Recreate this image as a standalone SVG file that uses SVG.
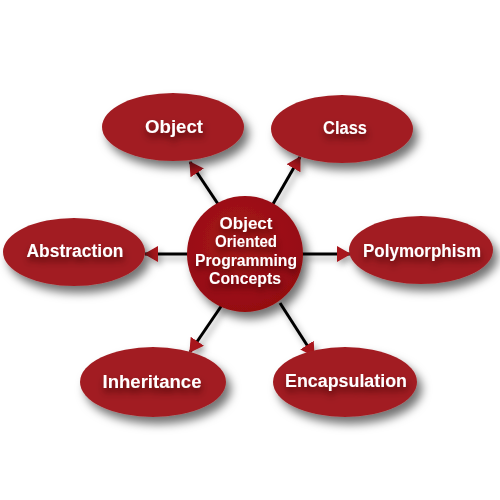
<svg xmlns="http://www.w3.org/2000/svg" width="500" height="500" viewBox="0 0 500 500">
<defs>
<filter id="sh" x="-30%" y="-30%" width="170%" height="180%">
<feDropShadow dx="5" dy="7" stdDeviation="5" flood-color="#000" flood-opacity="0.55"/>
</filter>
<filter id="lsh" x="-50%" y="-50%" width="200%" height="200%">
<feDropShadow dx="3" dy="4" stdDeviation="3" flood-color="#000" flood-opacity="0.35"/>
</filter>
<filter id="tsh" x="-20%" y="-50%" width="140%" height="220%">
<feDropShadow dx="1" dy="5" stdDeviation="3.5" flood-color="#3a0000" flood-opacity="0.75"/>
</filter>
<radialGradient id="cg" cx="45%" cy="40%" r="65%">
<stop offset="0" stop-color="#a8161b"/>
<stop offset="1" stop-color="#930c10"/>
</radialGradient>
<marker id="ah" viewBox="0 0 14 16" refX="13" refY="8" markerWidth="14" markerHeight="16" markerUnits="userSpaceOnUse" orient="auto">
<path d="M0,0 L14,8 L0,16 Z" fill="#a8121a"/>
</marker>
<style>
.el{fill:#a21e23;filter:url(#sh)}
.lb{font-family:"Liberation Sans","DejaVu Sans",sans-serif;font-weight:bold;font-size:18px;fill:#fff;text-anchor:middle;filter:url(#tsh)}
.cl{font-family:"Liberation Sans","DejaVu Sans",sans-serif;font-weight:bold;font-size:16px;fill:#fff;text-anchor:middle;filter:url(#tsh)}
.cn{stroke:#000;stroke-width:3;fill:none;marker-end:url(#ah)}
</style>
</defs>
<rect width="500" height="500" fill="#fff"/>
<g id="connectors" filter="url(#lsh)">
<line class="cn" x1="218" y1="204" x2="190" y2="162"/>
<line class="cn" x1="273" y1="204" x2="300" y2="157"/>
<line class="cn" x1="188" y1="254" x2="145" y2="254"/>
<line class="cn" x1="302" y1="254" x2="350" y2="254"/>
<line class="cn" x1="222" y1="305" x2="190" y2="352"/>
<line class="cn" x1="280" y1="303" x2="314" y2="356"/>
</g>
<g id="object">
<ellipse class="el" cx="173" cy="127" rx="71" ry="34"/>
<text class="lb" x="174" y="133" textLength="58" lengthAdjust="spacingAndGlyphs">Object</text>
</g>
<g id="class">
<ellipse class="el" cx="342" cy="129" rx="71" ry="34"/>
<text class="lb" x="345" y="134" textLength="44" lengthAdjust="spacingAndGlyphs">Class</text>
</g>
<g id="abstraction">
<ellipse class="el" cx="74" cy="252" rx="71" ry="34"/>
<text class="lb" x="75" y="257" textLength="97" lengthAdjust="spacingAndGlyphs">Abstraction</text>
</g>
<g id="polymorphism">
<ellipse class="el" cx="421" cy="250" rx="72" ry="34"/>
<text class="lb" x="422" y="257" textLength="118" lengthAdjust="spacingAndGlyphs">Polymorphism</text>
</g>
<g id="inheritance">
<ellipse class="el" cx="153" cy="382" rx="73" ry="35"/>
<text class="lb" x="152" y="388" textLength="99" lengthAdjust="spacingAndGlyphs">Inheritance</text>
</g>
<g id="encapsulation">
<ellipse class="el" cx="345" cy="382" rx="72" ry="35"/>
<text class="lb" x="346" y="387" textLength="122" lengthAdjust="spacingAndGlyphs">Encapsulation</text>
</g>
<g id="center">
<circle cx="245" cy="254" r="58" fill="url(#cg)" filter="url(#sh)"/>
<text class="cl" x="246" y="229" textLength="53" lengthAdjust="spacingAndGlyphs">Object</text>
<text class="cl" x="246" y="247" textLength="62" lengthAdjust="spacingAndGlyphs">Oriented</text>
<text class="cl" x="246" y="265.5" textLength="102" lengthAdjust="spacingAndGlyphs">Programming</text>
<text class="cl" x="245" y="284" textLength="72" lengthAdjust="spacingAndGlyphs">Concepts</text>
</g>
</svg>
